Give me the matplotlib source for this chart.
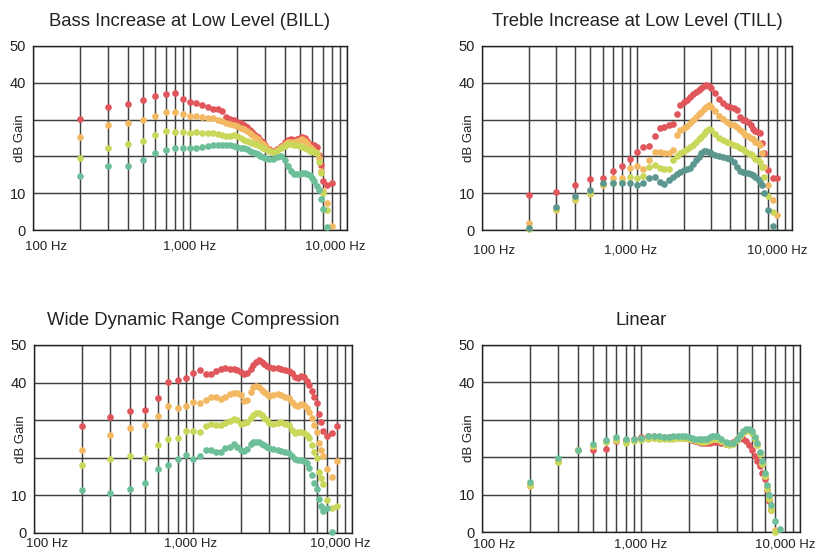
import numpy as np
import matplotlib
matplotlib.use("Agg")
import matplotlib.pyplot as plt
from matplotlib.ticker import LogLocator, NullFormatter
from matplotlib.transforms import ScaledTranslation

plt.rcParams['font.family'] = ['Liberation Sans', 'DejaVu Sans']

nan = np.nan

# measurement frequencies (Hz), shared by all four panels
freq = [200, 300, 400, 500, 600, 700, 800, 900, 1000,
        1100, 1200, 1300, 1400, 1500, 1600, 1700, 1800, 1900, 2000,
        2100, 2200, 2300, 2400, 2500, 2600, 2700, 2800, 2900, 3000,
        3200, 3400, 3600, 3800, 4000, 4200, 4400, 4600, 4800, 5000,
        5200, 5400, 5600, 5800, 6000,
        6200, 6400, 6600, 6800, 7000, 7500, 8000]

# Bass Increase at Low Level (BILL)
bill_red = [30.1, 33.5, 34.2, 35.4, 36.3, 37.0, 37.2, 35.5, 34.9,
            34.6, 33.9, 33.3, 33.0, 32.8, 32.4, 30.7, 30.2, 29.8, 29.4,
            29.2, 28.6, 28.0, 27.3, 26.6, 25.9, 25.2, 24.5, 23.8, 23.2,
            22.0, 21.4, 22.0, 22.8, 23.8, 24.4, 24.6, 24.4, 24.6, 25.1,
            25.3, 25.0, 24.3, 23.3, 23.0,
            23.0, 22.5, 20.4, 17.6, 13.3, 12.3, 12.9]
bill_orange = [25.3, 28.4, 29.1, 29.8, 31.0, 32.1, 32.0, 31.5, 31.0,
               30.9, 30.7, 30.5, 30.3, 29.9, 29.5, 29.2, 28.8, 28.5, 28.2,
               27.8, 27.4, 26.9, 26.4, 25.8, 25.2, 24.6, 24.0, 23.4, 22.8,
               21.8, 21.2, 21.8, 22.6, 23.3, 23.8, 24.0, 23.9, 24.1, 24.5,
               24.6, 24.3, 23.6, 22.6, 21.9,
               21.6, 21.0, 19.6, 16.0, 10.6, 7.4, 1.1]
bill_yellow = [19.7, 22.4, 23.5, 24.2, 25.7, 26.9, 26.6, 26.5, 26.3,
               26.5, 26.3, 26.3, 26.3, 26.0, 25.8, 25.6, 25.6, 25.7, 25.5,
               25.0, 24.5, 24.2, 23.9, 23.6, 23.3, 23.0, 22.7, 22.4, 22.1,
               21.5, 21.2, 21.6, 22.3, 22.9, 23.3, 23.4, 23.2, 23.0, 22.8,
               22.5, 22.2, 21.9, 21.6, 21.4,
               21.2, 20.8, 18.6, 15.4, 10.1, 5.4, nan]
bill_green = [14.7, 17.4, 17.4, 19.1, 20.8, 21.8, 22.3, 22.2, 22.2,
              22.4, 22.5, 22.8, 23.1, 23.1, 23.0, 23.2, 23.1, 22.9, 22.6,
              22.4, 22.2, 21.9, 21.6, 21.3, 21.0, 20.6, 20.2, 19.9, 19.7,
              19.2, 19.4, 19.8, 20.0, 19.0, 17.4, 16.0, 15.3, 15.2, 15.2,
              15.4, 15.6, 15.3, 14.9, 14.2,
              13.3, 12.0, 10.9, 8.3, 5.6, 0.9, nan]

# Treble Increase at Low Level (TILL)
till_red = [9.6, 10.4, 12.3, 13.8, 14.0, 16.0, 17.4, 19.2, 21.3,
            22.5, 22.9, 25.6, 27.6, 28.0, 28.4, 28.7, 31.4, 33.9, 34.7,
            35.3, 36.2, 36.9, 37.6, 38.1, 38.6, 39.0, 39.4, 39.2, 38.6,
            37.1, 35.5, 34.5, 33.7, 33.4, 33.2, 32.5, 30.8, 30.0, 29.8,
            29.3, 28.4, 27.4, 26.9, 26.6,
            26.4, 23.6, 21.0, nan, 16.2, 14.0, 14.0]
till_orange = [1.8, 5.4, 8.2, 9.7, 12.2, 14.0, 14.2, 16.8, 17.5,
               16.6, 18.9, 21.3, 21.2, 21.0, 21.0, 21.8, 25.8, 27.1, 27.8,
               28.2, 29.0, 29.8, 30.6, 31.5, 32.2, 32.8, 33.5, 33.9, 33.5,
               32.3, 31.0, 30.2, 29.4, 28.9, 28.5, 27.9, 27.2, 26.5, 25.9,
               25.5, 25.0, 24.6, 24.0, 23.6,
               23.2, 21.0, 17.0, nan, 12.2, 8.2, 4.2]
till_yellow = [0.2, 5.6, 8.5, 10.0, 12.5, 12.9, 13.1, 14.5, 14.0,
               14.6, 17.0, 17.6, 16.8, 16.6, 16.7, 18.9, 20.1, 20.8, 21.4,
               22.0, 22.6, 23.2, 23.8, 24.6, 25.4, 26.2, 27.0, 27.4, 27.2,
               26.0, 25.0, 24.5, 24.0, 23.6, 23.2, 22.8, 22.4, 21.9, 21.5,
               21.0, 20.6, 20.0, 19.4, 18.9,
               18.5, 17.0, 14.3, nan, 9.2, 5.0, nan]
till_green = [0.6, 6.3, 9.3, 10.9, 12.9, 12.9, 12.9, 12.9, 12.1,
              12.9, 14.2, 14.3, 13.1, 12.4, 13.5, 14.4, 15.3, 15.8, 16.2,
              16.6, 16.9, 17.9, 19.0, 19.9, 20.8, 21.5, 21.5, 21.3, 20.8,
              20.3, 20.0, 19.9, 19.7, 19.4, 18.4, 17.0, 16.0, 15.7, 15.6,
              15.4, 15.3, 15.0, 14.5, 13.8,
              13.1, 12.2, 10.1, nan, 5.4, 1.2, nan]

# Wide Dynamic Range Compression
wdrc_red = [28.5, 30.9, 32.4, 32.6, 35.8, 40.1, 40.7, 41.1, 42.6,
            43.4, 42.2, 42.4, 43.1, 43.5, 43.8, 43.6, 43.6, 43.4, 42.9,
            42.4, 42.6, 43.6, 44.7, 45.4, 46.0, 45.4, 44.9, 44.5, 44.1,
            43.8, 44.0, 43.7, 43.4, 43.1, 42.6, 41.6, 41.1, 41.7, 41.5,
            40.4, 39.4, 37.8, 36.2, 34.5,
            31.6, 29.4, 27.1, nan, 25.8, 26.5, 28.5]
wdrc_orange = [22.1, 26.0, 27.8, 28.7, 31.2, 33.8, 33.2, 33.8, 34.8,
               34.5, 35.4, 36.3, 36.3, 35.6, 36.3, 36.9, 37.3, 37.3, 36.6,
               35.2, 35.4, 37.6, 38.7, 39.2, 38.7, 38.0, 37.4, 36.9, 36.5,
               36.7, 36.9, 36.6, 36.2, 35.8, 34.9, 34.0, 33.9, 34.2, 34.0,
               33.3, 32.3, 30.5, 28.6, 26.8,
               24.0, 22.2, 20.4, nan, 17.0, 14.9, 19.2]
wdrc_yellow = [18.1, 19.6, 20.5, 19.9, 23.5, 25.0, 25.3, 27.1, 27.1,
               26.8, 28.5, 28.9, 28.7, 28.7, 29.2, 29.8, 30.3, 30.1, 28.9,
               29.2, 29.4, 30.5, 31.4, 31.8, 31.8, 31.4, 30.7, 30.1, 29.2,
               28.9, 29.2, 29.4, 29.1, 28.7, 27.4, 26.5, 26.8, 26.8, 26.5,
               26.1, 25.2, 23.5, 21.6, 20.0,
               16.2, 14.6, 13.0, nan, 8.9, 6.6, 7.1]
wdrc_green = [11.4, 10.7, 11.7, 13.4, 16.9, 18.0, 19.8, 20.7, 19.6,
              20.6, 22.0, 22.0, 21.5, 21.5, 22.5, 23.0, 23.6, 23.0, 22.1,
              21.8, 22.3, 23.6, 24.1, 24.3, 24.3, 23.8, 23.4, 23.0, 22.7,
              22.3, 22.0, 21.8, 21.5, 21.2, 20.6, 19.7, 19.4, 19.4, 19.1,
              18.5, 17.2, 15.5, 13.2, 11.8,
              9.0, 7.2, 5.9, nan, 6.7, 0.2, nan]

# Linear
lin_red = [12.6, 19.0, 21.8, 21.9, 22.3, 24.3, 24.5, 24.8, 25.3,
           25.6, 25.6, 25.4, 25.3, 25.3, 25.3, 25.3, 25.3, 25.2, 25.0,
           24.7, 24.4, 24.1, 23.8, 23.7, 23.7, 23.8, 24.0, 24.1, 24.0,
           23.7, 23.4, 23.4, 24.0, 24.8, 25.1, 24.8, 24.2, 23.2, 21.9,
           20.4, 19.0, 17.6, 15.8, 14.3,
           11.3, 8.4, 5.8, nan, nan, nan, nan]
lin_orange = [12.4, 18.6, 21.8, 23.1, 24.2, 24.6, 24.0, 24.5, 24.8,
              25.1, 25.2, 25.1, 25.1, 25.1, 25.1, 25.2, 25.2, 25.2, 25.1,
              24.9, 24.6, 24.4, 24.2, 24.2, 24.4, 24.6, 24.9, 25.1, 24.9,
              24.3, 23.6, 23.4, 23.7, 24.6, 25.7, 26.7, 27.2, 27.3, 26.5,
              25.0, 23.3, 21.0, 18.4, 15.1,
              11.9, 9.0, 6.3, nan, 0.5, nan, nan]
lin_yellow = [12.5, 18.8, 21.8, 23.0, 24.1, 24.5, 23.8, 24.4, 24.7,
              25.0, 25.1, 25.0, 25.0, 25.0, 25.0, 25.1, 25.1, 25.1, 25.0,
              24.8, 24.5, 24.3, 24.1, 24.1, 24.3, 24.5, 24.8, 25.0, 24.8,
              24.2, 23.5, 23.3, 23.6, 24.5, 25.6, 26.6, 27.1, 27.2, 26.4,
              24.9, 23.2, 20.9, 18.2, 14.9,
              11.6, 8.7, 6.0, nan, 0.1, nan, nan]
lin_green = [13.3, 19.9, 22.0, 23.6, 24.7, 25.4, 25.0, 25.0, 25.2,
             25.6, 25.6, 25.6, 25.5, 25.5, 25.6, 25.7, 25.7, 25.6, 25.4,
             25.2, 25.0, 24.9, 24.8, 24.8, 25.0, 25.3, 25.6, 25.8, 25.6,
             25.0, 24.1, 23.7, 23.9, 24.8, 26.0, 27.0, 27.5, 27.6, 26.9,
             25.5, 23.8, 21.5, 19.0, 15.8,
             12.5, 9.9, 7.2, nan, 3.0, 0.8, nan]

RED = '#e0565a'
ORANGE = '#f3b862'
YELLOW = '#c9d75a'
GREEN = '#6dbf99'
TEAL = '#5b968f'

xtick_vals = [100, 1000, 10000]
xtick_labels = ['100 Hz', '1,000 Hz', '10,000 Hz']

W, H = 828, 556
fig = plt.figure(figsize=(W / 100, H / 100), dpi=100)

panels = [
    # title, series, last colour, axes box in pixels (l, r, top, bottom), x label pad, label shifts
    ("Bass Increase at Low Level (BILL)", [bill_red, bill_orange, bill_yellow, bill_green],
     GREEN, (33, 347, 46, 230), 7.8, [13, 0, -12]),
    ("Treble Increase at Low Level (TILL)", [till_red, till_orange, till_yellow, till_green],
     TEAL, (482, 792, 46, 230), 10.5, [12, -6, -15]),
    ("Wide Dynamic Range Compression", [wdrc_red, wdrc_orange, wdrc_yellow, wdrc_green],
     GREEN, (34, 352, 345, 533), 3.3, [13, -2, -12]),
    ("Linear", [lin_red, lin_orange, lin_yellow, lin_green],
     GREEN, (482, 800, 345, 532), 5.0, [12, 0, -15]),
]

for title, series, last_col, box, xpad, shifts in panels:
    l, r, t, b = box
    ax = fig.add_axes([l / W, 1 - b / H, (r - l) / W, (b - t) / H])
    colors = [RED, ORANGE, YELLOW, last_col]
    for vals, c in zip(series, colors):
        ax.plot(freq, vals, 'o', ms=4.8, color=c, mec='none', clip_on=False, zorder=3)

    ax.set_xscale('log')
    ax.set_xlim(100, 10000)
    ax.set_ylim(0, 50)
    ax.set_xticks(xtick_vals)
    ax.set_xticklabels(xtick_labels)
    ax.xaxis.set_minor_locator(LogLocator(base=10, subs=np.arange(2, 10)))
    ax.xaxis.set_minor_formatter(NullFormatter())
    ax.set_yticks([0, 10, 20, 30, 40, 50])
    ax.set_yticklabels(['0', '10', '', '', '40', '50'])
    ax.grid(True, which='both', color='#404040', lw=1.05)
    for s in ax.spines.values():
        s.set_color('#222222')
        s.set_linewidth(1.0)
    ax.tick_params(axis='both', which='both', length=0)
    ax.tick_params(axis='x', pad=xpad, labelsize=9.5, colors='#222222')
    ax.tick_params(axis='y', pad=5, labelsize=10.5, colors='#222222')

    for lab, dx in zip(ax.get_xticklabels(), shifts):
        lab.set_transform(lab.get_transform() + ScaledTranslation(dx / 100, 0, fig.dpi_scale_trans))

    ax.set_ylabel('dB Gain', fontsize=9.5, color='#222222')
    ax.yaxis.set_label_coords(-7 / (r - l), 0.5)
    ax.set_title(title, fontsize=13.3, pad=14.5, color='#222222')

fig.savefig('out.png', dpi=100)
